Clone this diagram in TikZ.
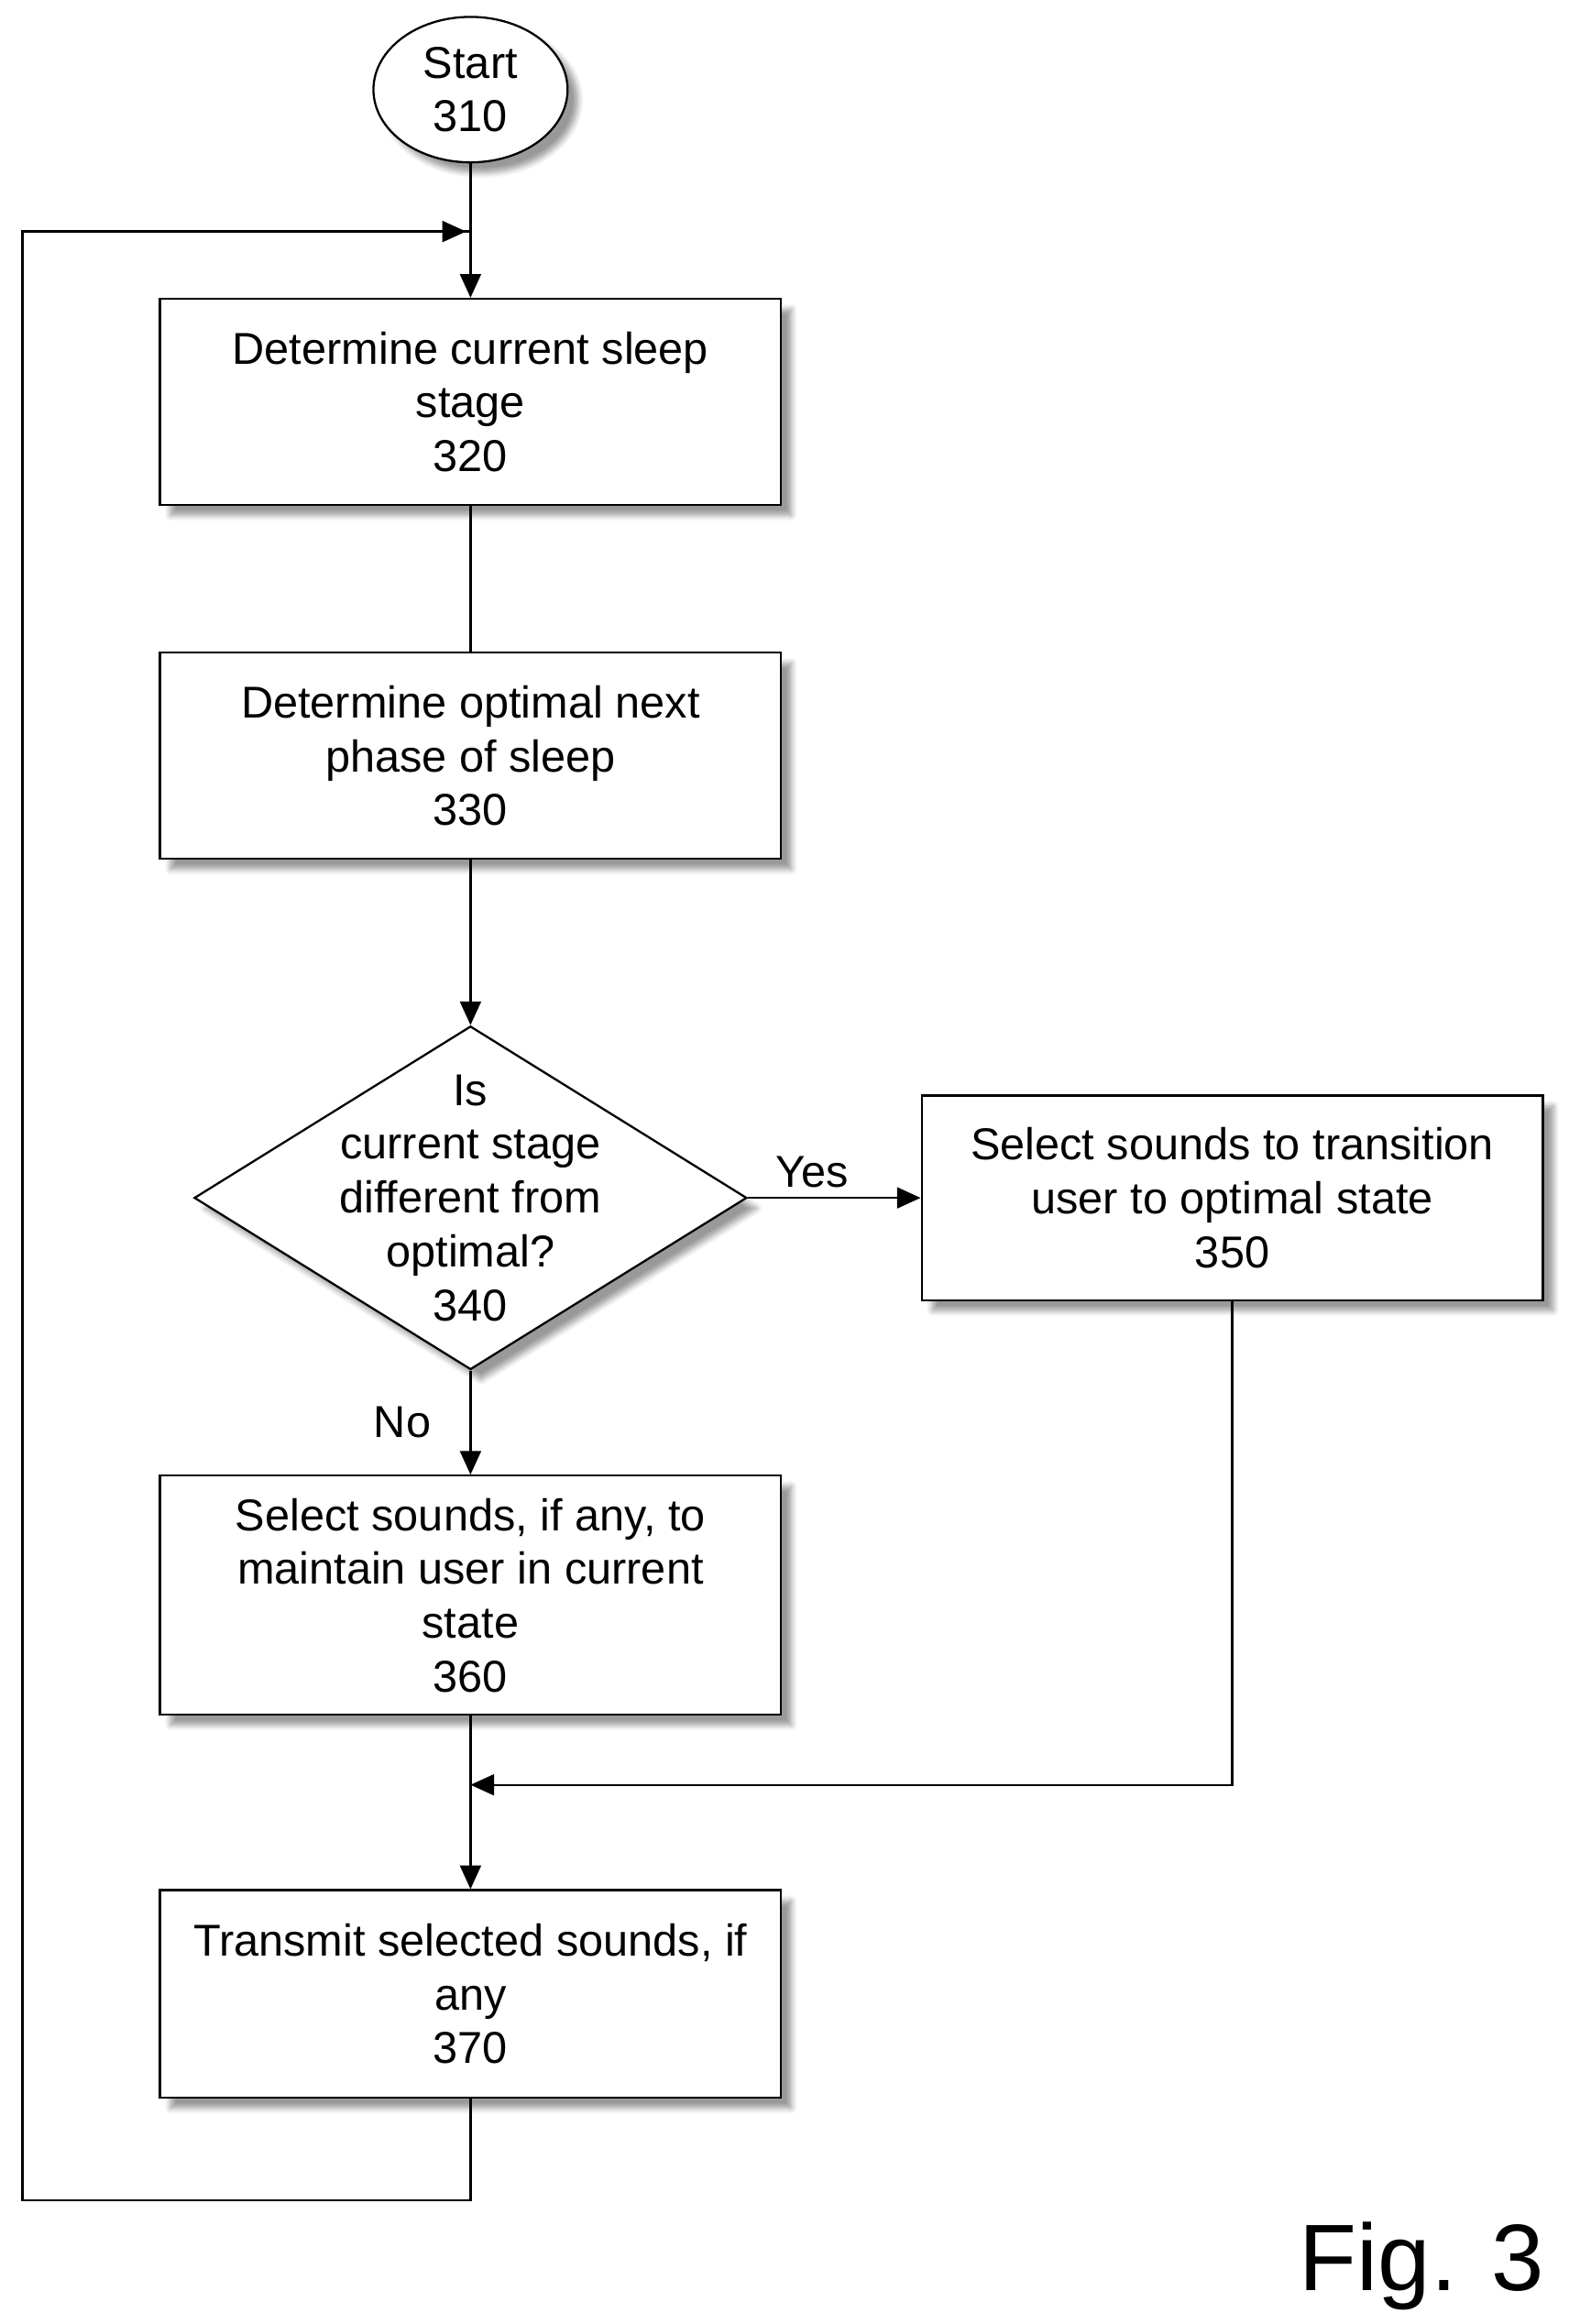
\documentclass[tikz,border=0pt]{standalone}
\usepackage{fontspec}
\setmainfont{Liberation Sans}
\usetikzlibrary{shapes.geometric,shadows.blur,arrows.meta}

\tikzset{
  box/.style={draw, thick, fill=white, minimum width=8.32cm, minimum height=2.76cm,
    align=center, font=\fontsize{17}{20.5}\selectfont,
    blur shadow={shadow xshift=4pt, shadow yshift=-4pt, shadow blur steps=6}},
  flow/.style={thick, -{Triangle[length=9pt,width=8pt]}},
  plain/.style={thick}
}

\begin{document}
\begin{tikzpicture}[x=0.02cm, y=-0.02cm]
\useasboundingbox (0,0) rectangle (1050,1556);

%nodes
\node (start) [draw, thick, ellipse, fill=white, minimum width=2.6cm, minimum height=1.6cm,
  align=center, font=\fontsize{17}{20.5}\selectfont,
  blur shadow={shadow xshift=4pt, shadow yshift=-4pt, shadow blur steps=6}] at (315,60) {Start\\310};

\node (stage) [box] at (315,269) {Determine current sleep\\stage\\320};
\node (phase) [box] at (315,506) {Determine optimal next\\phase of sleep\\330};

\node (check) [draw, thick, diamond, fill=white, minimum width=7.4cm, minimum height=4.6cm,
  inner sep=0pt,
  blur shadow={shadow xshift=4pt, shadow yshift=-4pt, shadow blur steps=6}] at (315,802) {};
\node (checktext) [align=center, font=\fontsize{17}{20.5}\selectfont] at (check)
  {Is\\current stage\\different from\\optimal?\\340};

\node (change) [box, minimum height=2.74cm] at (825,802) {Select sounds to transition\\user to optimal state\\350};
\node (keep) [box, minimum height=3.2cm] at (315,1068) {Select sounds, if any, to\\maintain user in current\\state\\360};
\node (send) [box, minimum height=2.78cm] at (315,1335) {Transmit selected sounds, if\\any\\370};

\coordinate (loopin) at (315,155);
\coordinate (merge) at (315,1195);

\node (fig) [font=\fontsize{36}{40}\selectfont] at (952,1517) {Fig. 3};

%connectors
\draw[flow] (start) -- (stage);
\draw[plain] (stage) -- (phase);
\draw[flow] (phase) -- (check);
\draw[flow] (check.east) -- node[above, xshift=-0.3cm, font=\fontsize{17}{20.5}\selectfont] {Yes} (change.west);
\draw[flow] (check.south) -- node[left, xshift=-0.4cm, font=\fontsize{17}{20.5}\selectfont] {No} (keep.north);
\draw[flow] (change.south) |- (merge);
\draw[flow] (keep) -- (send);
\draw[plain] (send.south) -- ++(0,68) -| (15,155) -- (loopin);
\draw[flow] (15,155) -- (312,155);
\end{tikzpicture}
\end{document}
